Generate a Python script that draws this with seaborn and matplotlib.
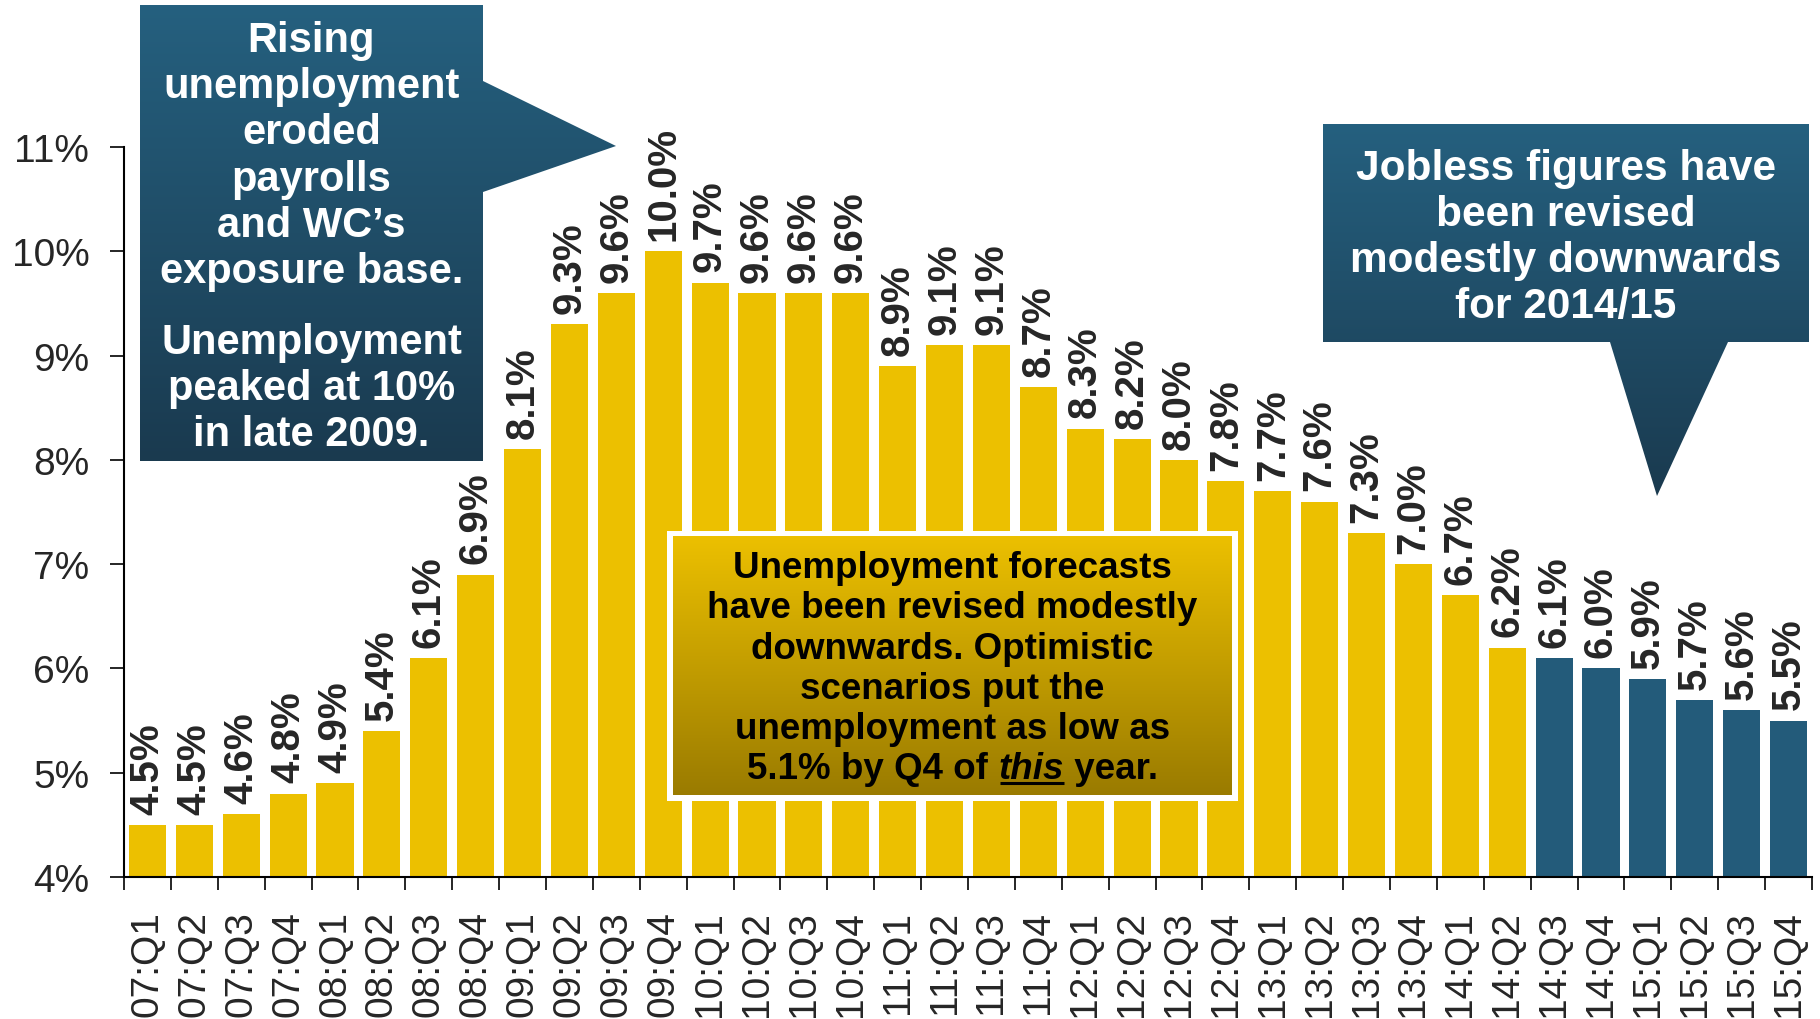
import numpy as np
import matplotlib
matplotlib.use("Agg")
import matplotlib.pyplot as plt
import seaborn as sns
from matplotlib.patches import Polygon, Rectangle
from matplotlib.colors import LinearSegmentedColormap

# ---- data ----
quarters = [
    "07:Q1", "07:Q2", "07:Q3", "07:Q4", "08:Q1", "08:Q2", "08:Q3", "08:Q4",
    "09:Q1", "09:Q2", "09:Q3", "09:Q4", "10:Q1", "10:Q2", "10:Q3", "10:Q4",
    "11:Q1", "11:Q2", "11:Q3", "11:Q4", "12:Q1", "12:Q2", "12:Q3", "12:Q4",
    "13:Q1", "13:Q2", "13:Q3", "13:Q4", "14:Q1", "14:Q2", "14:Q3", "14:Q4",
    "15:Q1", "15:Q2", "15:Q3", "15:Q4",
]
rates = [
    4.5, 4.5, 4.6, 4.8, 4.9, 5.4, 6.1, 6.9,
    8.1, 9.3, 9.6, 10.0, 9.7, 9.6, 9.6, 9.6,
    8.9, 9.1, 9.1, 8.7, 8.3, 8.2, 8.0, 7.8,
    7.7, 7.6, 7.3, 7.0, 6.7, 6.2, 6.1, 6.0,
    5.9, 5.7, 5.6, 5.5,
]
forecast_from = "14:Q3"
y_ticks = [4, 5, 6, 7, 8, 9, 10, 11]

left_note_1 = ["Rising", "unemployment", "eroded", "payrolls", "and WC\u2019s", "exposure base."]
left_note_2 = ["Unemployment", "peaked at 10%", "in late 2009."]
right_note = ["Jobless figures have", "been revised", "modestly downwards", "for 2014/15"]
mid_note = ["Unemployment forecasts", "have been revised modestly",
            "downwards. Optimistic", "scenarios put the", "unemployment as low as"]
mid_last = ["5.1% by Q4 of ", "this", " year."]

GOLD = "#ECC000"
BLUE = "#235B7A"
W, H = 1820, 1020

sns.set_style("ticks")
plt.rcParams["font.family"] = ["Liberation Sans", "DejaVu Sans"]

fig = plt.figure(figsize=(W / 100, H / 100), dpi=100)
ax = fig.add_axes([124 / W, 1 - 878 / H, (1812 - 124) / W, (878 - 148) / H])

first_fc = quarters.index(forecast_from)
bar_colors = [GOLD if i < first_fc else BLUE for i in range(len(quarters))]

sns.barplot(x=quarters, y=rates, hue=quarters, palette=bar_colors, legend=False,
            width=0.79, saturation=1, linewidth=0, errorbar=None, ax=ax)

for i, v in enumerate(rates):
    ax.annotate(f"{v:.1f}%", (i, v), xytext=(0, 8), textcoords="offset points",
                rotation=90, ha="center", va="bottom", fontsize=29, fontweight="bold")

ax.set_ylim(4, 11)
ax.set_xlim(-0.5, len(quarters) - 0.5)
ax.set_yticks(y_ticks)
ax.set_yticklabels([f"{t}%" for t in y_ticks], fontsize=28)
ax.set_xticks(range(len(quarters)))
ax.set_xticklabels(quarters, rotation=90, fontsize=28, va="top")
ax.set_xticks(np.arange(len(quarters) + 1) - 0.5, minor=True)
ax.tick_params(axis="x", which="major", length=0, pad=24)
ax.tick_params(axis="x", which="minor", length=9.5, width=1.4, direction="out")
ax.tick_params(axis="y", length=10, width=1.4, pad=15)
ax.set_xlabel("")
ax.set_ylabel("")
for s in ["top", "right"]:
    ax.spines[s].set_visible(False)
for s in ["left", "bottom"]:
    ax.spines[s].set_linewidth(1.5)
    ax.spines[s].set_color("black")

# ---- overlay in pixel coords for callouts ----
ov = fig.add_axes([0, 0, 1, 1], zorder=5)
ov.set_xlim(0, W)
ov.set_ylim(H, 0)
ov.axis("off")
ov.patch.set_alpha(0)

callout_cmap = LinearSegmentedColormap.from_list("c", ["#25607F", "#1A3A4F"])
gold_cmap = LinearSegmentedColormap.from_list("g", ["#ECC000", "#9A7B00"])
grad = np.linspace(0, 1, 256).reshape(-1, 1)


def gradient_shape(pts, cmap):
    pts = np.array(pts, dtype=float)
    poly = Polygon(pts, closed=True, facecolor="none", edgecolor="none")
    ov.add_patch(poly)
    x0, x1 = pts[:, 0].min(), pts[:, 0].max()
    y0, y1 = pts[:, 1].min(), pts[:, 1].max()
    im = ov.imshow(grad, cmap=cmap, extent=(x0, x1, y1, y0), origin="upper",
                   aspect="auto", interpolation="bilinear", zorder=2)
    im.set_clip_path(poly)


def stack(lines, x, y_first, step, size, **kw):
    cap = 0.72 * size * 100 / 72
    for k, line in enumerate(lines):
        ov.text(x, y_first + k * step + cap / 2, line, ha="center", va="baseline",
                fontsize=size, fontweight="bold", zorder=4, **kw)


gradient_shape([(140, 6), (483, 6), (483, 82), (616, 147), (483, 193),
                (483, 462), (140, 462)], callout_cmap)
gradient_shape([(1323, 125), (1809, 125), (1809, 343), (1728, 343), (1657, 497),
                (1610, 343), (1323, 343)], callout_cmap)
stack(left_note_1, 311.5, 37, 46.2, 30, color="white")
stack(left_note_2, 311.5, 339, 46.2, 30, color="white")
stack(right_note, 1566, 165, 46, 30.5, color="white")

# middle box
ov.add_patch(Rectangle((667, 532), 1238 - 667, 802 - 532, facecolor="white",
                       edgecolor="none", zorder=1))
gradient_shape([(673, 537), (1232, 537), (1232, 796), (673, 796)], gold_cmap)
stack(mid_note, 952.5, 565, 40.2, 26.5, color="black")

size = 26.5
base_y = 766 + 0.72 * size * 100 / 72 / 2
parts = []
for k, seg in enumerate(mid_last):
    style = "italic" if k == 1 else "normal"
    parts.append(ov.text(0, base_y, seg, ha="left", va="baseline", fontsize=size,
                         fontweight="bold", fontstyle=style, color="black", zorder=4))
fig.canvas.draw()
rend = fig.canvas.get_renderer()
widths = [t.get_window_extent(rend).width for t in parts]
x = 952.5 - sum(widths) / 2
for t, w_ in zip(parts, widths):
    t.set_x(x)
    if t.get_text() == "this":
        ov.plot([x + 2, x + w_], [base_y + 5, base_y + 5], color="black", lw=2.2,
                solid_capstyle="butt", zorder=4)
    x += w_

fig.savefig("out.png", dpi=100, facecolor="white")
